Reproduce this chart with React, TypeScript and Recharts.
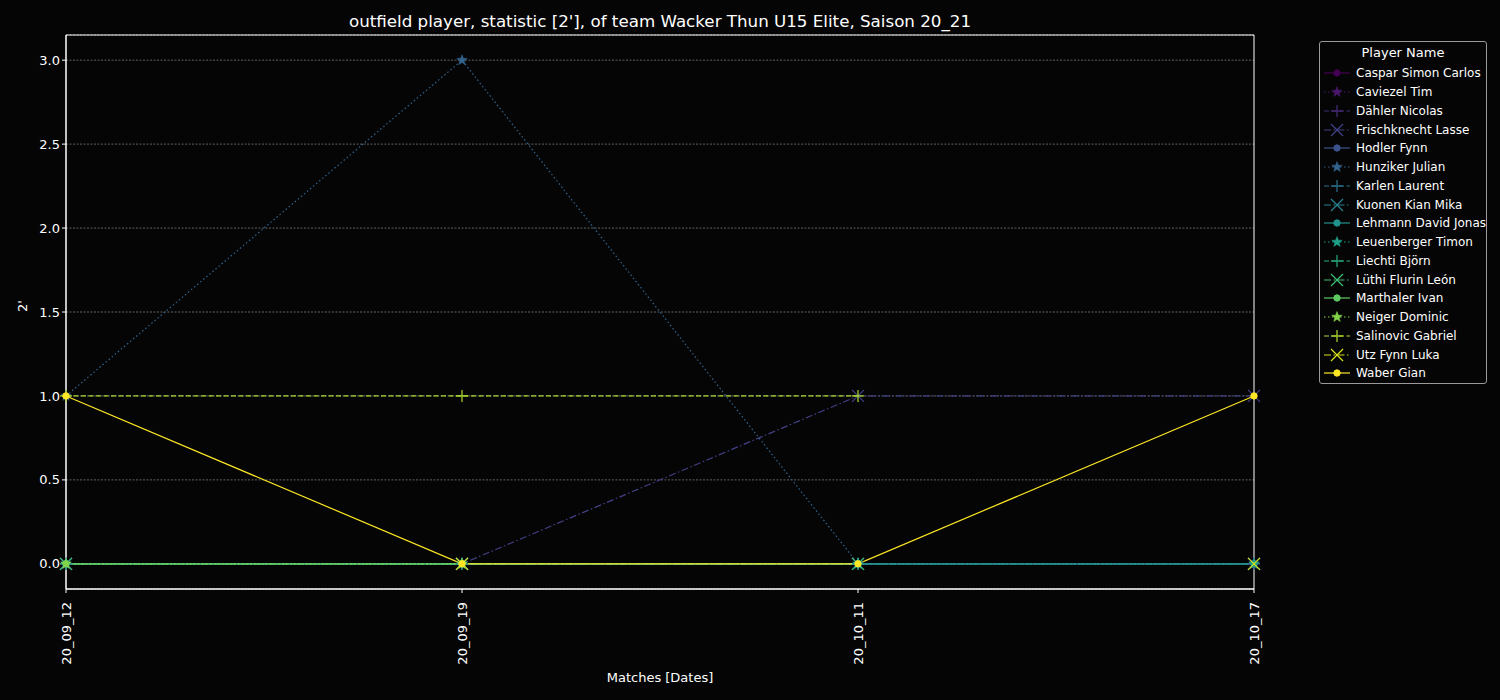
import React from 'react';
import { LineChart, Line, XAxis, YAxis, CartesianGrid, ReferenceArea, Label } from 'recharts';

const MATCHES = ['20_09_12', '20_09_19', '20_10_11', '20_10_17'];

const PLAYERS = [
  'Caspar Simon Carlos', 'Caviezel Tim', 'Dähler Nicolas', 'Frischknecht Lasse',
  'Hodler Fynn', 'Hunziker Julian', 'Karlen Laurent', 'Kuonen Kian Mika',
  'Lehmann David Jonas', 'Leuenberger Timon', 'Liechti Björn', 'Lüthi Flurin León',
  'Marthaler Ivan', 'Neiger Dominic', 'Salinovic Gabriel', 'Utz Fynn Luka', 'Waber Gian',
];

// 2' penalties per match, one row per player (null = did not play)
const VALUES: (number | null)[][] = [
  [0, 0, 0, 0],
  [0, 0, 0, 0],
  [0, 0, 0, 0],
  [0, 0, 1, 1],
  [0, 0, 0, 0],
  [1, 3, 0, 0],
  [0, 0, 0, 0],
  [0, 0, 0, 0],
  [0, 0, 0, 0],
  [0, 0, 0, 0],
  [0, 0, 0, null],
  [0, 0, 0, null],
  [0, 0, null, null],
  [0, 0, null, null],
  [1, 1, 1, null],
  [null, 0, null, 0],
  [1, 0, 0, 1],
];

const Y_TICKS = [0, 0.5, 1, 1.5, 2, 2.5, 3];

const COLORS = [
  '#440154', '#48186a', '#472d7b', '#424086', '#3b528b', '#33638d', '#2c728e', '#26828e',
  '#21918c', '#1fa088', '#28ae80', '#3fbc73', '#5ec962', '#84d44b', '#addc30', '#d8e219', '#fde725',
];

const MARKERS = ['o', '*', '+', 'x'];
const DASHES = [undefined, '1.5 2.5', '5 2.5', '7 2.5 1.5 2.5'];

const data = MATCHES.map((m, i) => {
  const row: Record<string, any> = { match: m };
  PLAYERS.forEach((p, j) => { row[p] = VALUES[j][i]; });
  return row;
});

const starPath = (cx: number, cy: number, r: number) => {
  const pts: string[] = [];
  for (let k = 0; k < 10; k++) {
    const rr = k % 2 === 0 ? r : r * 0.42;
    const a = -Math.PI / 2 + (k * Math.PI) / 5;
    pts.push(`${cx + rr * Math.cos(a)},${cy + rr * Math.sin(a)}`);
  }
  return `M${pts.join('L')}Z`;
};

const Marker = ({ kind, cx, cy, color }: { kind: string; cx: number; cy: number; color: string }) => {
  if (kind === 'o') return <circle cx={cx} cy={cy} r={3.2} fill={color} stroke={color} />;
  if (kind === '*') return <path d={starPath(cx, cy, 5.5)} fill={color} stroke={color} strokeWidth={0.5} />;
  if (kind === '+')
    return (
      <g stroke={color} strokeWidth={1.2}>
        <line x1={cx - 6} y1={cy} x2={cx + 6} y2={cy} />
        <line x1={cx} y1={cy - 6} x2={cx} y2={cy + 6} />
      </g>
    );
  return (
    <g stroke={color} strokeWidth={1.2}>
      <line x1={cx - 6} y1={cy - 6} x2={cx + 6} y2={cy + 6} />
      <line x1={cx - 6} y1={cy + 6} x2={cx + 6} y2={cy - 6} />
    </g>
  );
};

const makeDot = (j: number) => (props: any) => {
  const { cx, cy, value, index } = props;
  const key = `d-${j}-${index}`;
  if (value == null || cy == null || isNaN(cy)) return <g key={key} />;
  return (
    <g key={key}>
      <Marker kind={MARKERS[j % 4]} cx={cx} cy={cy} color={COLORS[j]} />
    </g>
  );
};

const XTick = (props: any) => {
  const { x, y, payload } = props;
  return (
    <text x={x} y={y + 7} transform={`rotate(-90 ${x} ${y + 7})`} textAnchor="end" dominantBaseline="central"
      fill="#fff" fontSize={13}>
      {payload.value}
    </text>
  );
};

const LegendBox = () => (
  <div style={{
    position: 'absolute', left: 1319, top: 41,
    width: 168, height: 343, border: '1px solid #9a9a9a', borderRadius: 3, background: '#050505',
    color: '#fff', fontFamily: 'DejaVu Sans, sans-serif', boxSizing: 'border-box',
  }}>
    <div style={{ textAlign: 'center', fontSize: 13, marginTop: 3, height: 19 }}>Player Name</div>
    {PLAYERS.map((p, j) => (
      <div key={p} style={{ display: 'flex', alignItems: 'center', height: 18.75, fontSize: 12 }}>
        <svg width={36} height={18} style={{ flex: 'none' }}>
          <line x1={4} y1={9} x2={30} y2={9} stroke={COLORS[j]} strokeWidth={1.2} strokeDasharray={DASHES[j % 4]} />
          <Marker kind={MARKERS[j % 4]} cx={17} cy={9} color={COLORS[j]} />
        </svg>
        <span style={{ marginLeft: 0, whiteSpace: 'nowrap' }}>{p}</span>
      </div>
    ))}
  </div>
);

export default function App() {
  return (
    <div style={{ position: 'fixed', left: 0, top: 0, width: 1500, height: 700, background: '#050505',
      fontFamily: 'DejaVu Sans, sans-serif' }}>
      <div style={{ position: 'absolute', left: 66, width: 1188, top: 11, textAlign: 'center', color: '#fff', fontSize: 16.7 }}>
        outfield player, statistic [2'], of team Wacker Thun U15 Elite, Saison 20_21
      </div>
      <LineChart width={1500} height={700} data={data} margin={{ top: 35, right: 246, bottom: 31, left: 6 }}>
        <CartesianGrid vertical={false} stroke="#8a8a8a" strokeDasharray="2 1.5" strokeWidth={0.7} />
        <XAxis dataKey="match" height={80} tick={<XTick />} tickLine={{ stroke: '#fff' }} tickSize={4}
          axisLine={{ stroke: '#fff' }} interval={0}>
          <Label value="Matches [Dates]" position="insideBottom" offset={-13} fill="#fff" fontSize={13} />
        </XAxis>
        <YAxis type="number" domain={[-0.15, 3.15]} ticks={Y_TICKS} width={60} tickFormatter={(v: number) => v.toFixed(1)}
          tick={{ fill: '#fff', fontSize: 13 }} tickLine={{ stroke: '#fff' }} tickSize={4} axisLine={{ stroke: '#fff' }}
          allowDataOverflow>
          <Label value="2'" angle={-90} position="insideLeft" offset={16} fill="#fff" fontSize={13} />
        </YAxis>
        <ReferenceArea y1={-0.15} y2={3.15} fill="none" stroke="#fff" strokeWidth={1} ifOverflow="visible" />
        {PLAYERS.map((p, j) => (
          <Line key={p} dataKey={p} stroke={COLORS[j]} strokeWidth={1.2} strokeDasharray={DASHES[j % 4]}
            dot={makeDot(j)} activeDot={false} isAnimationActive={false} connectNulls={false} type="linear" />
        ))}
      </LineChart>
      <LegendBox />
    </div>
  );
}
